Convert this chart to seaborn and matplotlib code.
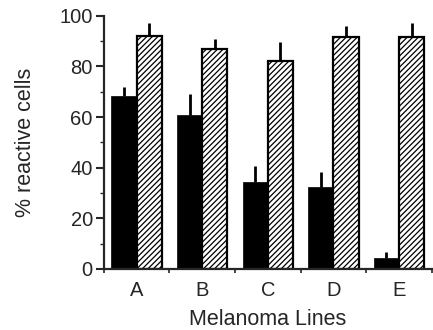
import numpy as np
import pandas as pd
import matplotlib.pyplot as plt
import seaborn as sns
from matplotlib.ticker import MultipleLocator

lines = ['A', 'B', 'C', 'D', 'E']
treated = [68.5, 61, 34.5, 32.5, 4.5]
treated_err = [3.5, 8, 6, 6, 2]
control = [92, 87, 82, 91.5, 91.5]
control_err = [5, 4, 7.5, 4.5, 5.5]

df = pd.DataFrame({
    'line': lines * 2,
    'value': treated + control,
    'group': ['treated'] * 5 + ['control'] * 5,
})

sns.set_style('ticks')
plt.rcParams['font.family'] = ['Liberation Sans', 'DejaVu Sans']
plt.rcParams['hatch.linewidth'] = 0.9

fig = plt.figure(figsize=(4.33, 3.30), dpi=100)
ax = fig.add_axes([0.240, 0.185, 0.757, 0.767])

sns.barplot(data=df, x='line', y='value', hue='group', palette=['black', 'white'],
            width=0.77, gap=0, errorbar=None, legend=False, ax=ax)

n = len(lines)
errs = treated_err + control_err
for i, p in enumerate(ax.patches[:2 * n]):
    x = p.get_x() + p.get_width() / 2
    top = p.get_height()
    ax.errorbar(x, top, yerr=[[0], [errs[i]]], fmt='none', ecolor='black',
                elinewidth=2, capsize=0)
    p.set_edgecolor('black')
    if i >= n:
        p.set_hatch('//////')
        p.set_linewidth(1.6)
    else:
        p.set_linewidth(0.5)

ax.set_ylim(0, 100)
ax.set_xlim(-0.5, n - 0.5)
ax.yaxis.set_major_locator(MultipleLocator(20))
ax.yaxis.set_minor_locator(MultipleLocator(10))
ax.set_xticks(np.arange(-0.5, n, 1), minor=True)
ax.tick_params(axis='x', which='major', length=0, labelsize=14.5, pad=9)
ax.tick_params(axis='x', which='minor', length=3, width=1.2, direction='out')
ax.tick_params(axis='y', which='major', length=6, width=1.5, labelsize=14.5, pad=2)
ax.tick_params(axis='y', which='minor', length=3, width=1, direction='out')
for s in ['left', 'bottom']:
    ax.spines[s].set_linewidth(1.6)
sns.despine(ax=ax)

ax.set_xlabel('Melanoma Lines', fontsize=15.5, labelpad=6)
ax.set_ylabel('% reactive cells', fontsize=15.5, labelpad=17)

fig.savefig('out.png', dpi=100)
